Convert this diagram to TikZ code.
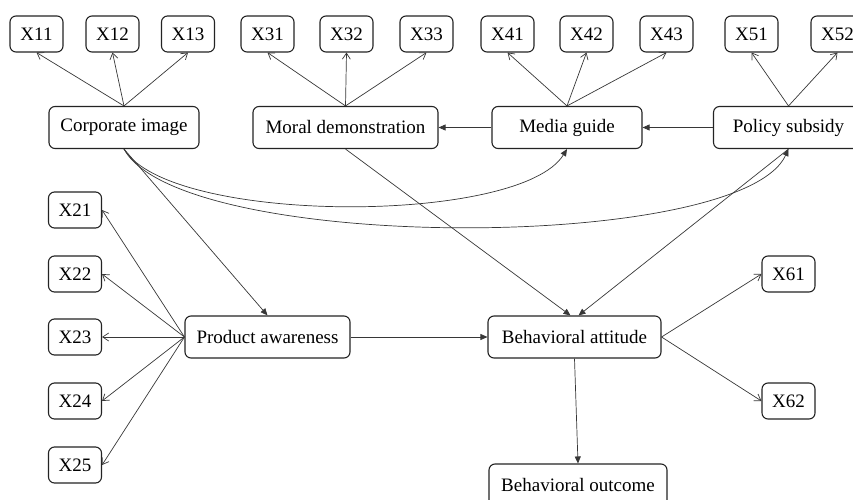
\documentclass[tikz,border=0pt]{standalone}
\usepackage{fontspec}
\setmainfont{Liberation Serif}
\usepackage{tikz}
\usetikzlibrary{arrows.meta,positioning,calc}
\definecolor{edgegray}{RGB}{55,55,55}
\definecolor{boxline}{RGB}{35,35,35}

\begin{document}
\begin{tikzpicture}[x=1pt,y=-1pt,
  font=\fontsize{19}{22}\selectfont,
  ind/.style={draw=boxline,line width=1.1pt,rounded corners=6pt,
              minimum width=53pt,minimum height=36pt,inner sep=0pt},
  lat/.style={draw=boxline,line width=1.1pt,rounded corners=6pt,
              minimum height=42pt,inner sep=0pt},
  meas/.style={draw=edgegray,line width=0.7pt,-{Straight Barb[length=6pt,width=8pt]}},
  regr/.style={draw=edgegray,line width=0.7pt,-{Triangle[length=7pt,width=6pt]}}]
  % Page frame (pixel grid, y down); the right and bottom boxes run off it.
  \clip (0,0) rectangle (853,500);

  % Latent variables.
  \node[lat,minimum width=150pt] (ci) at (124,127.5) {Corporate image};
  \node[lat,minimum width=185pt] (md) at (345.5,127.5) {Moral demonstration};
  \node[lat,minimum width=150pt] (mg) at (567,127.5) {Media guide};
  \node[lat,minimum width=150pt] (ps) at (788.5,127.5) {Policy subsidy};
  \node[lat,minimum width=165pt] (pa) at (267.5,337) {Product awareness};
  \node[lat,minimum width=173pt] (ba) at (574.5,337) {Behavioral attitude};
  \node[lat,minimum width=178pt] (bo) at (578,485) {Behavioral outcome};

  % Indicators, top row.
  \node[ind] (x11) at (36.5,34) {X11};
  \node[ind] (x12) at (112.5,34) {X12};
  \node[ind] (x13) at (188,34) {X13};
  \node[ind] (x31) at (267.5,34) {X31};
  \node[ind] (x32) at (346.5,34) {X32};
  \node[ind] (x33) at (426.5,34) {X33};
  \node[ind] (x41) at (507.5,34) {X41};
  \node[ind] (x42) at (586.5,34) {X42};
  \node[ind] (x43) at (666.5,34) {X43};
  \node[ind] (x51) at (751.5,34) {X51};
  \node[ind] (x52) at (837.5,34) {X52};

  % Indicators, left column and right pair.
  \node[ind] (x21) at (75,210) {X21};
  \node[ind] (x22) at (75,274) {X22};
  \node[ind] (x23) at (75,337) {X23};
  \node[ind] (x24) at (75,401) {X24};
  \node[ind] (x25) at (75,465) {X25};
  \node[ind] (x61) at (788.5,274) {X61};
  \node[ind] (x62) at (788.5,401) {X62};

  % Measurement edges (open tips).
  \foreach \i in {x11,x12,x13} \draw[meas] (ci.north) -- (\i.south);
  \foreach \i in {x31,x32,x33} \draw[meas] (md.north) -- (\i.south);
  \foreach \i in {x41,x42,x43} \draw[meas] (mg.north) -- (\i.south);
  \foreach \i in {x51,x52} \draw[meas] (ps.north) -- (\i.south);
  \foreach \i in {x21,x22,x23,x24,x25} \draw[meas] (pa.west) -- (\i.east);
  \foreach \i in {x61,x62} \draw[meas] (ba.east) -- (\i.west);

  % Structural paths (filled tips).
  \draw[regr] (ps.west) -- (mg.east);
  \draw[regr] (mg.west) -- (md.east);
  \draw[regr] (ci.south) -- (pa.north);
  \draw[regr] (pa.east) -- (ba.west);
  \draw[regr] (md.south) -- ([xshift=-4pt]ba.north);
  \draw[regr] (ps.south) -- ([xshift=4pt]ba.north);
  \draw[regr] (ba.south) -- (bo.north);

  % The two long bends out of Corporate image.
  \draw[regr] (ci.south) .. controls +(46,76) and +(-47,76) .. (mg.south);
  \draw[regr] (ci.south) .. controls +(56,104) and +(-48,104) .. (ps.south);
\end{tikzpicture}
\end{document}
